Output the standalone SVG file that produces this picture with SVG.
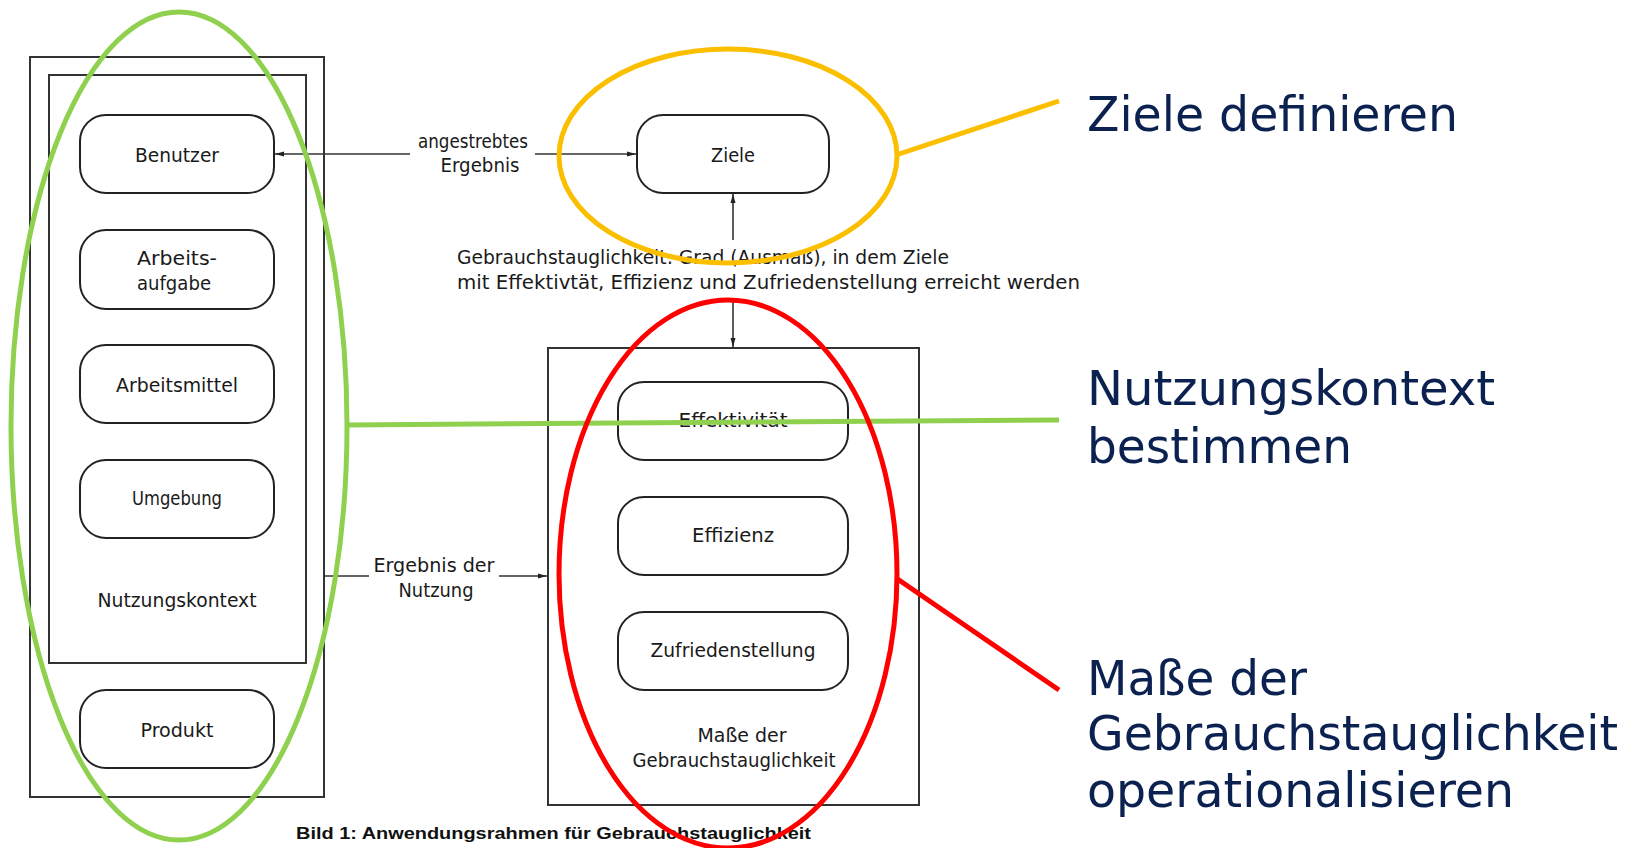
<svg xmlns="http://www.w3.org/2000/svg" width="1639" height="848" viewBox="0 0 1639 848">
  <defs>
    <marker id="arr" markerWidth="10" markerHeight="8" refX="9" refY="4" orient="auto" markerUnits="userSpaceOnUse">
      <path d="M0,1.5 L9,4 L0,6.5 z" fill="#222"/>
    </marker>
    <style>
      .frame { fill: none; stroke: #333; stroke-width: 2; }
      .node { fill: #fff; stroke: #222; stroke-width: 2; }
      .lbl { font-family: "DejaVu Sans Condensed", "Liberation Sans Narrow", "DejaVu Sans", sans-serif; font-size: 20px; fill: #1a1a1a; text-anchor: middle; }
      .lbl-l { font-family: "DejaVu Sans Condensed", "Liberation Sans Narrow", "DejaVu Sans", sans-serif; font-size: 20px; fill: #1a1a1a; }
      .conn { fill: none; stroke: #333; stroke-width: 1.6; }
      .cap { font-family: "Liberation Sans", Arial, sans-serif; font-weight: bold; font-size: 17px; fill: #111; }
      .note { font-family: "DejaVu Sans Condensed", "DejaVu Sans", sans-serif; font-size: 48px; fill: #0b2150; }
      .ring { fill: none; stroke-width: 5; }
    </style>
  </defs>

  <rect width="1639" height="848" fill="#fff"/>

  <!-- Nutzungskontext column -->
  <g id="kontext-frame">
    <rect class="frame" x="30" y="57" width="294" height="740"/>
    <rect class="frame" x="49" y="75" width="257" height="588"/>
    <text class="lbl" x="177" y="607" textLength="159" lengthAdjust="spacingAndGlyphs">Nutzungskontext</text>
  </g>
  <g id="benutzer">
    <rect class="node" x="80" y="115" width="194" height="78" rx="26"/>
    <text class="lbl" x="177" y="162" textLength="84" lengthAdjust="spacingAndGlyphs">Benutzer</text>
  </g>
  <g id="arbeitsaufgabe">
    <rect class="node" x="80" y="230" width="194" height="79" rx="26"/>
    <text class="lbl" x="177" y="265" textLength="80" lengthAdjust="spacingAndGlyphs">Arbeits-</text>
    <text class="lbl" x="174" y="290" textLength="74" lengthAdjust="spacingAndGlyphs">aufgabe</text>
  </g>
  <g id="arbeitsmittel">
    <rect class="node" x="80" y="345" width="194" height="78" rx="26"/>
    <text class="lbl" x="177" y="392" textLength="122" lengthAdjust="spacingAndGlyphs">Arbeitsmittel</text>
  </g>
  <g id="umgebung">
    <rect class="node" x="80" y="460" width="194" height="78" rx="26"/>
    <text class="lbl" x="177" y="505" textLength="90" lengthAdjust="spacingAndGlyphs">Umgebung</text>
  </g>
  <g id="produkt">
    <rect class="node" x="80" y="690" width="194" height="78" rx="26"/>
    <text class="lbl" x="177" y="737" textLength="73" lengthAdjust="spacingAndGlyphs">Produkt</text>
  </g>

  <!-- Ziele -->
  <g id="ziele">
    <rect class="node" x="637" y="115" width="192" height="78" rx="26"/>
    <text class="lbl" x="733" y="162" textLength="44" lengthAdjust="spacingAndGlyphs">Ziele</text>
  </g>

  <!-- Maße der Gebrauchstauglichkeit -->
  <g id="masse-frame">
    <rect class="frame" x="548" y="348" width="371" height="457"/>
    <text class="lbl" x="742" y="742" textLength="89" lengthAdjust="spacingAndGlyphs">Maße der</text>
    <text class="lbl" x="734" y="767" textLength="203" lengthAdjust="spacingAndGlyphs">Gebrauchstauglichkeit</text>
  </g>
  <g id="effektivitaet">
    <rect class="node" x="618" y="382" width="230" height="78" rx="26"/>
    <text class="lbl" x="733" y="427" textLength="109" lengthAdjust="spacingAndGlyphs">Effektivität</text>
  </g>
  <g id="effizienz">
    <rect class="node" x="618" y="497" width="230" height="78" rx="26"/>
    <text class="lbl" x="733" y="542" textLength="82" lengthAdjust="spacingAndGlyphs">Effizienz</text>
  </g>
  <g id="zufriedenstellung">
    <rect class="node" x="618" y="612" width="230" height="78" rx="26"/>
    <text class="lbl" x="733" y="657" textLength="165" lengthAdjust="spacingAndGlyphs">Zufriedenstellung</text>
  </g>

  <!-- connectors and their labels -->
  <g id="connectors">
    <line class="conn" x1="410" y1="154" x2="275" y2="154" marker-end="url(#arr)"/>
    <line class="conn" x1="535" y1="154" x2="636" y2="154" marker-end="url(#arr)"/>
    <text class="lbl" x="473" y="148" textLength="110" lengthAdjust="spacingAndGlyphs">angestrebtes</text>
    <text class="lbl" x="480" y="172" textLength="79" lengthAdjust="spacingAndGlyphs">Ergebnis</text>

    <line class="conn" x1="733" y1="240" x2="733" y2="194" marker-end="url(#arr)"/>
    <line class="conn" x1="733" y1="298" x2="733" y2="347" marker-end="url(#arr)"/>
    <text class="lbl-l" x="457" y="264" textLength="492" lengthAdjust="spacingAndGlyphs">Gebrauchstauglichkeit: Grad (Ausmaß), in dem Ziele</text>
    <text class="lbl-l" x="457" y="289" textLength="623" lengthAdjust="spacingAndGlyphs">mit Effektivtät, Effizienz und Zufriedenstellung erreicht werden</text>

    <line class="conn" x1="324" y1="576" x2="369" y2="576"/>
    <line class="conn" x1="499" y1="576" x2="547" y2="576" marker-end="url(#arr)"/>
    <text class="lbl" x="434" y="572" textLength="121" lengthAdjust="spacingAndGlyphs">Ergebnis der</text>
    <text class="lbl" x="436" y="597" textLength="75" lengthAdjust="spacingAndGlyphs">Nutzung</text>
  </g>

  <text class="cap" x="296" y="839" textLength="515" lengthAdjust="spacingAndGlyphs">Bild  1:  Anwendungsrahmen für Gebrauchstauglichkeit</text>

  <!-- highlight rings and callouts -->
  <g id="callout-ziele">
    <ellipse class="ring" stroke="#fbbf00" cx="728" cy="156" rx="169" ry="107"/>
    <line stroke="#fbbf00" stroke-width="5" x1="896" y1="155" x2="1059" y2="101"/>
    <text class="note" x="1087" y="131" textLength="371" lengthAdjust="spacingAndGlyphs">Ziele definieren</text>
  </g>
  <g id="callout-kontext">
    <ellipse class="ring" stroke="#8fd14f" cx="179" cy="426" rx="168" ry="414"/>
    <line stroke="#8fd14f" stroke-width="5" x1="347" y1="425" x2="1059" y2="420"/>
    <text class="note" x="1087" y="405" textLength="408" lengthAdjust="spacingAndGlyphs">Nutzungskontext</text>
    <text class="note" x="1087" y="463" textLength="265" lengthAdjust="spacingAndGlyphs">bestimmen</text>
  </g>
  <g id="callout-masse">
    <ellipse class="ring" stroke="#ff0000" cx="728" cy="574" rx="169" ry="274"/>
    <line stroke="#ff0000" stroke-width="5" x1="896" y1="578" x2="1059" y2="690"/>
    <text class="note" x="1087" y="695" textLength="220" lengthAdjust="spacingAndGlyphs">Maße der</text>
    <text class="note" x="1087" y="750" textLength="531" lengthAdjust="spacingAndGlyphs">Gebrauchstauglichkeit</text>
    <text class="note" x="1087" y="807" textLength="427" lengthAdjust="spacingAndGlyphs">operationalisieren</text>
  </g>
</svg>
